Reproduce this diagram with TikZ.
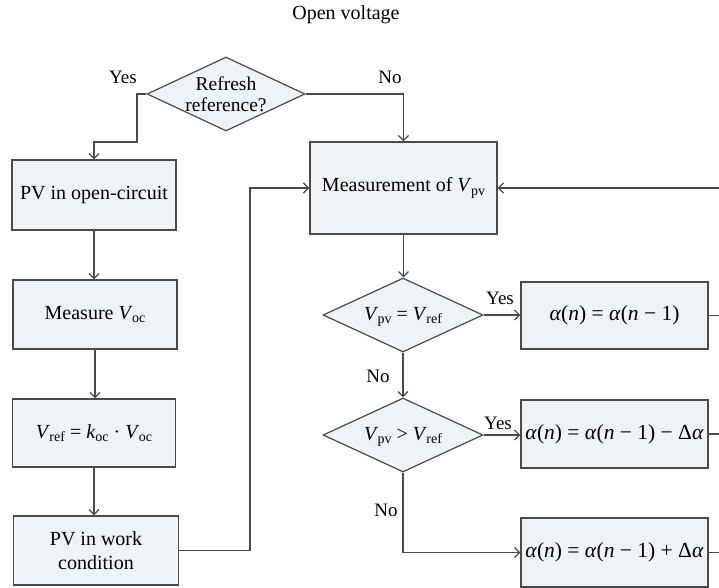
\documentclass[tikz,border=0pt]{standalone}
\usepackage{fontspec}
\setmainfont{Liberation Serif}
\usetikzlibrary{shapes.geometric,arrows.meta}

\definecolor{linec}{HTML}{4A4A4A}
\definecolor{boxfill}{HTML}{EFF3F5}

% V with an upright subscript
\newcommand\volt[1]{\textit{V}\kern-0.6pt\raisebox{-0.35ex}{\fontsize{14}{14}\selectfont #1}}
\newcommand\alp{\textit{α}}

\tikzset{
  txt/.style={font=\fontsize{20}{23}\selectfont, text=black, align=center, inner sep=0pt},
  lbl/.style={font=\fontsize{19}{22}\selectfont, text=black, inner sep=0pt},
  box/.style={draw=linec, fill=boxfill, line width=1.3pt, rectangle, inner sep=0pt,
              align=center, font=\fontsize{20}{23}\selectfont, text=black},
  abox/.style={box, minimum width=187pt, font=\fontsize{21.5}{24}\selectfont},
  dec/.style={draw=linec, fill=boxfill, line width=1.2pt, diamond, inner sep=0pt,
              minimum width=158pt, minimum height=74pt},
  flow/.style={draw=linec, line width=1.25pt, -{Straight Barb[length=5pt,width=10pt]}},
  plain/.style={draw=linec, line width=1.25pt},
}

\begin{document}
\begin{tikzpicture}[x=1pt,y=-1pt]
  \useasboundingbox (0,0) rectangle (719,588);

  \node[txt] (title) at (346,15) {Open voltage};

  % left column
  \node[dec] (d1) at (226,94) {};
  \node[txt, font=\fontsize{19.5}{21}\selectfont] (d1t) at (226,94) {Refresh\\reference?};

  \node[box, minimum width=164pt, minimum height=70pt] (b1) at (94,195) {PV in open-circuit};
  \node[box, minimum width=164pt, minimum height=69pt] (b2) at (95,314.5) {Measure \volt{oc}};
  \node[box, minimum width=163pt, minimum height=68pt] (b3) at (94,433)
       {\volt{ref} = \textit{k}\raisebox{-0.35ex}{\fontsize{14}{14}\selectfont oc} · \volt{oc}};
  \node[box, minimum width=165pt, minimum height=69pt, font=\fontsize{20}{24}\selectfont] (b4) at (96,550.5) {PV in work\\condition};

  % right column
  \node[box, minimum width=187pt, minimum height=92pt] (m) at (403.5,188) {Measurement of \volt{pv}};
  \node[dec, minimum width=160pt] (d2) at (403,315) {};
  \node[txt] (d2t) at (403,317) {\volt{pv} = \volt{ref}};
  \node[dec, minimum width=160pt] (d3) at (403,435) {};
  \node[txt] (d3t) at (403,437) {\volt{pv} > \volt{ref}};

  \node[abox, minimum height=67pt] (a1) at (614.5,315.5)
       {\alp(\textit{n}) = \alp(\textit{n} − 1)};
  \node[abox, minimum height=68pt] (a2) at (614.5,434)
       {\alp(\textit{n}) = \alp(\textit{n} − 1) − Δ\alp};
  \node[abox, minimum height=69pt] (a3) at (614.5,552.5)
       {\alp(\textit{n}) = \alp(\textit{n} − 1) + Δ\alp};

  % free ends at the right border
  \coordinate (rin) at (719,188);
  \coordinate (r1) at (719,315.5);
  \coordinate (r2) at (719,434);
  \coordinate (r3) at (719,552.5);

  % connectors
  \draw[flow] (d1.west) -- (137,94) -- (137,142) -- (94,142) -- (b1.north);
  \draw[flow] (d1.east) -- (403.5,94) -- (m.north);
  \draw[flow] (b1.south) -- (b1.south |- b2.north);
  \draw[flow] (b2.south) -- (b2.south |- b3.north);
  \draw[flow] (b3.south) -- (b3.south |- b4.north);
  \draw[flow] (b4.east) -- (250,550.5) -- (250,188) -- (m.west);
  \draw[flow] (rin) -- (m.east);
  \draw[flow] (m.south) -- (m.south |- d2.north);
  \draw[flow] (d2.east) -- (a1.west |- d2.east);
  \draw[flow] (d2.south) -- (d3.north);
  \draw[flow] (d3.east) -- (a2.west |- d3.east);
  \draw[flow] (d3.south) -- (d3.south |- a3.west) -- (a3.west);
  \draw[plain] (a1.east) -- (r1);
  \draw[plain] (a2.east) -- (r2);
  \draw[plain] (a3.east) -- (r3);

  % branch labels
  \node[lbl] (y1) at (123,77) {Yes};
  \node[lbl] (n1) at (390,77) {No};
  \node[lbl] (y2) at (500,298) {Yes};
  \node[lbl] (n2) at (378,376) {No};
  \node[lbl] (y3) at (498,423) {Yes};
  \node[lbl] (n3) at (386,510) {No};
\end{tikzpicture}
\end{document}
